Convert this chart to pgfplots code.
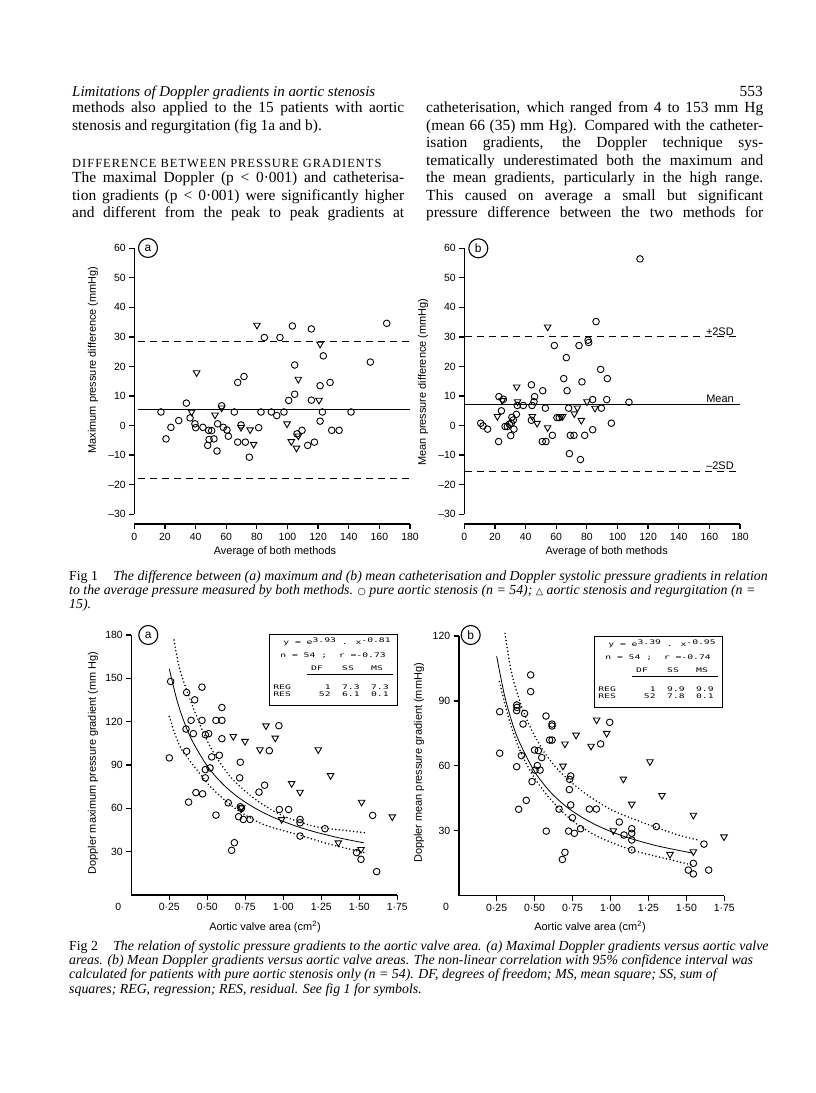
\documentclass[border=0pt]{standalone}
\usepackage{fontspec}
\setmainfont{Liberation Serif}
\setsansfont{Liberation Sans}
\newfontfamily\symfont{DejaVu Sans}
\newfontfamily\dotfont{DejaVu Sans Mono}
\usepackage{pgfplots}
\pgfplotsset{compat=1.18}

\newcommand\bodyf{\fontsize{15.5}{17.5}\selectfont\rmfamily}
\newcommand\capf{\fontsize{13.9}{15}\selectfont\itshape}
\newcommand\figf{\fontsize{11}{13}\selectfont\sffamily}
\newcommand\tickf{\fontsize{10.5}{12}\selectfont\sffamily}
\newcommand\dotf{\fontsize{6.3}{7}\selectfont\dotfont}

% one justified / natural line of body text
\newcommand\jline[4]{\node[anchor=base west,inner sep=0,font=\bodyf] at (#1,#2) {\makebox[#3bp][s]{#4}};}
\newcommand\nline[3]{\node[anchor=base west,inner sep=0,font=\bodyf] at (#1,#2) {#3};}
\newcommand\capline[3]{\node[anchor=base west,inner sep=0,font=\capf] at (#1,#2) {#3};}
\newcommand\circlab[3]{\node[draw,circle,line width=1.1bp,inner sep=0pt,minimum size=19bp,font=\fontsize{12}{12}\selectfont\sffamily] at (#1,#2) {#3};}

% regression box of fig 2
\newcommand\statbox[8]{%
\begin{scope}[shift={(#1,#2)}]
\draw[line width=0.8bp] (0,0) rectangle (128,71);
\node[anchor=base west,inner sep=0,font=\dotf,xscale=1.55] at (14,60) {y = e\raisebox{2.5bp}{#3} . x\raisebox{2.5bp}{#4}};
\node[anchor=base west,inner sep=0,font=\dotf,xscale=1.55] at (11,47.5) {n = #5 ;\ \ r =#6};
\node[anchor=base,inner sep=0,font=\dotf,xscale=1.55] at (48,34) {DF};
\node[anchor=base,inner sep=0,font=\dotf,xscale=1.55] at (79,34) {SS};
\node[anchor=base,inner sep=0,font=\dotf,xscale=1.55] at (108,34) {MS};
\draw[line width=0.6bp] (38,31) -- (124,31);
\node[anchor=base west,inner sep=0,font=\dotf,xscale=1.55] at (4,15.5) {REG};
\node[anchor=base east,inner sep=0,font=\dotf,xscale=1.55] at (62,15.5) {1};
\node[anchor=base east,inner sep=0,font=\dotf,xscale=1.55] at (91,15.5) {#7};
\node[anchor=base east,inner sep=0,font=\dotf,xscale=1.55] at (120,15.5) {#7};
\node[anchor=base west,inner sep=0,font=\dotf,xscale=1.55] at (4,8.5) {RES};
\node[anchor=base east,inner sep=0,font=\dotf,xscale=1.55] at (62,8.5) {52};
\node[anchor=base east,inner sep=0,font=\dotf,xscale=1.55] at (91,8.5) {#8};
\node[anchor=base east,inner sep=0,font=\dotf,xscale=1.55] at (120,8.5) {0.1};
\end{scope}}

\pgfplotsset{
  paper/.style={scale only axis, clip=false, anchor=south west,
    tick pos=left, tick align=outside, axis line style={draw=none},
    major tick length=5bp, tick style={black, line width=1.3bp},
    ticklabel style={font=\tickf},
    /pgf/number format/assume math mode=true},
  circ/.style={only marks, mark=o, mark size=3.3bp, mark options={line width=0.9bp}, black},
  tri/.style={only marks, mark=triangle, mark size=3.8bp, mark options={rotate=180, line width=0.9bp}, black},
  sdline/.style={black, line width=0.9bp, dash pattern=on 7bp off 5bp},
  meanline/.style={black, line width=0.8bp},
  fitline/.style={black, line width=0.8bp, smooth},
  ciline/.style={black, line width=1.7bp, smooth, dash pattern=on 0bp off 3.6bp, line cap=round},
}

\begin{document}
\begin{tikzpicture}[x=1bp,y=1bp]
\useasboundingbox (0,0) rectangle (816,1093);
\fill[white] (0,0) rectangle (816,1093);

% ---------- running head and text ----------
\node[anchor=base west,inner sep=0,font=\fontsize{15}{17}\selectfont\itshape] at (72,996) {Limitations of Doppler gradients in aortic stenosis};
\node[anchor=base east,inner sep=0,font=\bodyf] at (763,996) {553};

\jline{72}{980}{332}{methods also applied to the 15 patients with aortic}
\nline{72}{962.5}{stenosis and regurgitation (fig 1a and b).}
\node[anchor=base west,inner sep=0,font=\fontsize{12.5}{13}\selectfont\addfontfeatures{LetterSpace=8}] at (72,925.5) {DIFFERENCE BETWEEN PRESSURE GRADIENTS};
\jline{72}{910}{332}{The maximal Doppler (p < 0·001) and catheterisa-}
\jline{72}{892.5}{332}{tion gradients (p < 0·001) were significantly higher}
\jline{72}{875}{332}{and different from the peak to peak gradients at}

\jline{426}{980}{337}{catheterisation, which ranged from 4 to 153 mm Hg}
\jline{426}{962.5}{337}{(mean 66 (35) mm Hg). Compared with the catheter-}
\jline{426}{945}{337}{isation gradients, the Doppler technique sys-}
\jline{426}{927.5}{337}{tematically underestimated both the maximum and}
\jline{426}{910}{337}{the mean gradients, particularly in the high range.}
\jline{426}{892.5}{337}{This caused on average a small but significant}
\jline{426}{875}{337}{pressure difference between the two methods for}

% ---------- Fig 1a ----------
\begin{axis}[paper, at={(134.3bp,568.7bp)}, width=275.7bp, height=276bp,
  xmin=0, xmax=180, ymin=-33.4, ymax=60,
  xtick={0,20,...,180}, xticklabels={0,20,40,60,80,100,120,140,160,180},
  ytick={-30,-20,...,60}, yticklabels={\textendash30,\textendash20,\textendash10,0,10,20,30,40,50,60}]
\draw[line width=1.6bp] (axis cs:0,-30) -- (axis cs:0,60);
\draw[line width=1.6bp] (axis cs:0,-33.4) -- (axis cs:180,-33.4);
\addplot[sdline] coordinates {(2.5,28.4) (180,28.4)};
\addplot[meanline] coordinates {(2.5,5.6) (180,5.6)};
\addplot[sdline] coordinates {(2.5,-17.8) (180,-17.8)};
\addplot[circ] coordinates {
(17.4,4.6) (20.7,-4.5) (23.9,-0.6) (29.0,1.7) (34.0,7.6) (36.4,2.6) (39.6,0.6) (40.1,-0.7)
(44.8,-0.6) (47.9,-6.7) (48.8,-4.7) (48.5,-1.6) (50.5,-1.7) (52.0,-4.5) (54.0,-8.6) (54.4,0.6)
(57.0,6.7) (58.1,-0.6) (60.5,-1.5) (61.4,-3.6) (65.3,4.6) (67.5,14.6) (67.5,-5.6) (71.6,16.6)
(72.5,-5.6) (69.7,0.2) (75.1,-10.7) (81.2,-0.7) (82.7,4.6) (84.9,29.8) (89.5,4.6) (93.0,3.4)
(95.1,29.8) (97.7,4.6) (100.8,8.5) (103.2,33.7) (104.7,20.5) (104.7,10.6) (106.2,-2.8) (109.5,-1.6)
(113.2,-6.7) (115.6,32.7) (115.6,8.6) (117.6,-5.6) (121.3,1.5) (121.3,13.5) (122.8,4.6) (123.4,23.6)
(127.8,14.6) (128.9,-1.6) (133.7,-1.6) (141.5,4.6) (154.1,21.5) (164.8,34.6)};
\addplot[tri] coordinates {
(40.7,17.9) (37.4,4.6) (52.7,3.6) (57.0,6.0) (69.7,-0.6) (75.6,-1.4) (77.9,-6.3) (80.1,34.0)
(99.7,0.6) (102.5,-5.4) (105.9,-7.6) (107.1,-3.5) (107.1,15.7) (120.6,8.6) (121.3,27.6)};
\end{axis}
\circlab{148}{845}{a}
\node[rotate=90,font=\figf] at (93,733) {Maximum pressure difference (mmHg)};
\node[font=\figf] at (275,541.3) {Average of both methods};

% ---------- Fig 1b ----------
\begin{axis}[paper, at={(464.3bp,568.7bp)}, width=275.7bp, height=276bp,
  xmin=0, xmax=180, ymin=-33.4, ymax=60,
  xtick={0,20,...,180}, xticklabels={0,20,40,60,80,100,120,140,160,180},
  ytick={-30,-20,...,60}, yticklabels={\textendash30,\textendash20,\textendash10,0,10,20,30,40,50,60}]
\draw[line width=1.6bp] (axis cs:0,-30) -- (axis cs:0,60);
\draw[line width=1.6bp] (axis cs:0,-33.4) -- (axis cs:180,-33.4);
\addplot[sdline] coordinates {(0.5,30.0) (180,30.0)};
\addplot[meanline] coordinates {(0.5,7.2) (180,7.2)};
\addplot[sdline] coordinates {(0.5,-15.6) (180,-15.6)};
\addplot[circ] coordinates {
(10.7,0.8) (12.2,-0.1) (15.2,-1.2) (22.4,-5.4) (22.6,9.8) (24.2,5.0) (25.5,8.9) (26.6,-0.3)
(28.1,-0.3) (29.4,0.5) (30.3,-3.4) (30.7,0.8) (31.1,2.8) (32.0,1.9) (32.4,-1.2) (34.0,3.8)
(34.6,6.8) (38.5,6.8) (43.8,13.8) (43.8,1.8) (44.2,6.8) (45.5,8.1) (45.9,9.8) (50.9,-5.4)
(51.2,11.8) (52.9,5.9) (53.3,-5.4) (57.5,-3.3) (58.8,27.1) (60.5,2.7) (62.0,2.7) (64.9,15.9)
(66.6,23.0) (67.1,11.8) (68.1,5.9) (68.6,-9.5) (69.2,-3.3) (71.6,-3.3) (74.9,27.1) (75.8,-11.5)
(76.8,14.8) (78.6,-3.3) (80.8,28.9) (81.2,28.1) (83.8,8.8) (83.8,-1.4) (86.0,35.2) (89.0,19.0)
(89.5,5.9) (93.0,8.8) (93.4,15.9) (96.0,0.8) (107.5,7.9) (114.7,56.4)};
\addplot[tri] coordinates {
(21.6,3.1) (24.8,8.5) (34.2,13.1) (34.8,8.1) (44.4,3.1) (47.5,0.8) (54.4,33.4) (54.4,-0.7)
(62.9,3.1) (64.2,3.1) (71.8,4.0) (73.8,6.0) (76.4,1.8) (80.1,8.1) (85.3,5.9)};
\node[anchor=south east,font=\figf,inner sep=1.5bp] at (axis cs:177,30) {+2SD};
\node[anchor=south east,font=\figf,inner sep=1.5bp] at (axis cs:177,7.2) {Mean};
\node[anchor=south east,font=\figf,inner sep=1.5bp] at (axis cs:177,-15.6) {\textendash2SD};
\end{axis}
\circlab{478.3}{844.7}{b}
\node[rotate=90,font=\figf] at (423,711) {Mean pressure difference (mmHg)};
\node[font=\figf] at (606.7,541.3) {Average of both methods};

% ---------- Fig 1 caption ----------
\capline{69}{512}{{\upshape Fig 1}\hspace{1.1em}The difference between (a) maximum and (b) mean catheterisation and Doppler systolic pressure gradients in relation}
\capline{69}{498}{to the average pressure measured by both methods. {\upshape\symfont\fontsize{9.5}{9.5}\selectfont ○} pure aortic stenosis (n = 54); {\upshape\symfont\fontsize{9.5}{9.5}\selectfont △} aortic stenosis and regurgitation (n =}
\capline{69}{484}{15).}

% ---------- Fig 2a ----------
\begin{axis}[paper, at={(131.3bp,198bp)}, width=266bp, height=260bp,
  xmin=0, xmax=1.75, ymin=0, ymax=180,
  xtick={0.25,0.5,...,1.75}, xticklabels={0·25,0·50,0·75,1·00,1·25,1·50,1·75},
  ytick={30,60,...,180}, yticklabels={30,60,90,120,150,180}]
\draw[line width=1.6bp] (axis cs:0,0) -- (axis cs:0,180);
\draw[line width=1.6bp] (axis cs:0,0) -- (axis cs:1.75,0);
\addplot[fitline] coordinates {(0.25,156.5) (0.30,135.0) (0.35,119.1) (0.40,106.9) (0.50,89.2) (0.60,77.0) (0.70,67.9) (0.80,61.0) (0.90,55.4) (1.00,50.9) (1.10,47.1) (1.20,43.9) (1.30,41.2) (1.40,38.8) (1.53,36.1)};
\addplot[ciline] coordinates {(0.281,176.5) (0.32,155.8) (0.408,129.4) (0.518,102.9) (0.649,82.2) (0.803,67.3) (0.978,55.8) (1.197,47.7) (1.439,44.3) (1.537,43.1)};
\addplot[ciline] coordinates {(0.25,123.6) (0.32,102.9) (0.43,86.8) (0.539,73.0) (0.693,59.2) (0.868,48.9) (1.088,42.0) (1.307,35.1) (1.537,29.3)};
\addplot[circ] coordinates {
(0.259,147.8) (0.25,94.9) (0.364,140.2) (0.36,114.9) (0.364,99.5) (0.377,64.3) (0.393,120.9) (0.408,111.7)
(0.417,135.1) (0.425,70.9) (0.465,120.9) (0.465,143.9) (0.469,70.0) (0.487,111.0) (0.487,86.8) (0.487,81.1)
(0.509,111.7) (0.518,88.0) (0.529,95.6) (0.557,120.9) (0.557,55.3) (0.579,96.7) (0.596,120.9) (0.596,129.8)
(0.596,108.2) (0.638,63.8) (0.66,30.9) (0.678,36.2) (0.706,54.2) (0.713,81.1) (0.717,91.9) (0.717,61.1)
(0.724,59.9) (0.737,52.3) (0.781,52.3) (0.84,71.2) (0.877,76.0) (0.908,99.9) (0.971,117.2) (0.974,59.2)
(1.035,59.2) (1.11,52.3) (1.11,50.0) (1.11,40.8) (1.274,45.9) (1.482,29.3) (1.511,24.7) (1.588,55.1)
(1.614,16.2)};
\addplot[tri] coordinates {
(0.671,109.8) (0.748,106.4) (0.846,100.6) (0.886,117.2) (0.947,108.7) (1.055,77.2) (1.11,71.2) (1.23,100.6)
(1.311,82.7) (0.989,52.3) (1.362,36.2) (1.511,31.6) (1.515,64.3) (1.717,54.2) (0.726,60.4)};
\end{axis}
\statbox{269}{388}{3.93}{-0.81}{54}{-0.73}{7.3}{6.1}
\circlab{148.3}{458}{a}
\node[font=\tickf] at (118.3,185.7) {0};
\node[rotate=90,font=\figf] at (93,330) {Doppler maximum pressure gradient (mm Hg)};
\node[font=\figf] at (265,166) {Aortic valve area (cm\textsuperscript{2})};

% ---------- Fig 2b ----------
\begin{axis}[paper, at={(458.7bp,197.4bp)}, width=265.6bp, height=259.6bp,
  xmin=0, xmax=1.75, ymin=0, ymax=120,
  xtick={0.25,0.5,...,1.75}, xticklabels={0·25,0·50,0·75,1·00,1·25,1·50,1·75},
  ytick={30,60,90,120}, yticklabels={30,60,90,120}]
\draw[line width=1.6bp] (axis cs:0,0) -- (axis cs:0,120);
\draw[line width=1.6bp] (axis cs:0,0) -- (axis cs:1.75,0);
\addplot[fitline] coordinates {(0.25,110.7) (0.30,93.1) (0.35,80.4) (0.40,70.9) (0.50,57.3) (0.60,48.2) (0.70,41.6) (0.80,36.7) (0.90,32.8) (1.00,29.7) (1.10,27.1) (1.20,25.0) (1.30,23.1) (1.40,21.6) (1.50,20.2) (1.545,19.6)};
\addplot[ciline] coordinates {(0.305,121.2) (0.349,102.7) (0.415,87.3) (0.481,76.5) (0.568,65.8) (0.678,56.5) (0.832,47.3) (1.008,39.6) (1.227,33.4) (1.447,28.0) (1.579,25.7)};
\addplot[ciline] coordinates {(0.268,98.9) (0.327,82.7) (0.393,68.8) (0.481,56.5) (0.59,45.7) (0.744,34.9) (0.92,27.2) (1.14,21.1) (1.359,17.2) (1.539,14.1)};
\addplot[circ] coordinates {
(0.27,85.0) (0.27,65.8) (0.382,88.1) (0.384,87.0) (0.382,85.5) (0.382,59.6) (0.395,39.9) (0.413,64.7)
(0.424,79.3) (0.434,84.2) (0.445,44.0) (0.474,102.0) (0.474,94.3) (0.483,52.7) (0.50,67.3) (0.503,58.0)
(0.518,60.1) (0.525,67.0) (0.536,58.0) (0.547,63.8) (0.575,83.0) (0.577,29.8) (0.599,71.9) (0.615,71.9)
(0.615,79.3) (0.615,78.4) (0.661,40.0) (0.683,16.7) (0.70,20.0) (0.724,29.8) (0.729,49.0) (0.731,53.7)
(0.738,55.3) (0.738,41.9) (0.749,36.0) (0.762,28.8) (0.803,30.9) (0.861,40.0) (0.907,40.0) (0.935,70.1)
(0.995,80.1) (1.058,34.0) (1.089,28.0) (1.14,30.9) (1.14,28.8) (1.14,25.7) (1.14,21.1) (1.302,31.9)
(1.513,11.8) (1.546,14.9) (1.546,10.0) (1.616,23.8) (1.647,11.8)};
\addplot[tri] coordinates {
(0.687,59.9) (0.70,70.1) (0.773,74.2) (0.872,69.1) (0.909,81.2) (0.975,75.0) (1.085,53.9) (1.14,42.3)
(1.019,30.0) (1.26,61.9) (1.339,46.3) (1.392,19.1) (1.546,37.2) (1.546,20.3) (1.748,27.2)};
\end{axis}
\statbox{594}{386}{3.39}{-0.95}{54}{-0.74}{9.9}{7.8}
\circlab{470.7}{458}{b}
\node[font=\tickf] at (446,186) {0};
\node[rotate=90,font=\figf] at (419,330) {Doppler mean pressure gradient (mmHg)};
\node[font=\figf] at (590,166) {Aortic valve area (cm\textsuperscript{2})};

% ---------- Fig 2 caption ----------
\capline{69}{142}{{\upshape Fig 2}\hspace{1.1em}The relation of systolic pressure gradients to the aortic valve area. (a) Maximal Doppler gradients versus aortic valve}
\capline{69}{128}{areas. (b) Mean Doppler gradients versus aortic valve areas. The non-linear correlation with 95\% confidence interval was}
\capline{69}{114}{calculated for patients with pure aortic stenosis only (n = 54). DF, degrees of freedom; MS, mean square; SS, sum of}
\capline{69}{99}{squares; REG, regression; RES, residual. See fig 1 for symbols.}
\end{tikzpicture}
\end{document}
